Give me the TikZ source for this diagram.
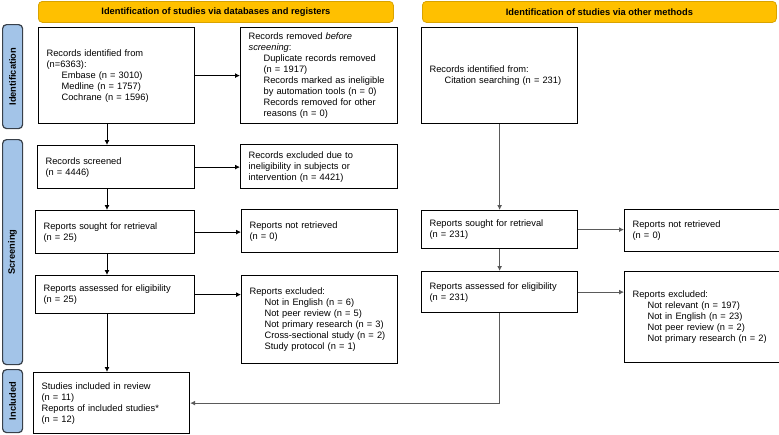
\documentclass[tikz,border=0pt]{standalone}
\usepackage{fontspec}
\setmainfont{Liberation Sans}
\usetikzlibrary{arrows.meta,calc}
\definecolor{gold}{HTML}{FFC000}
\definecolor{goldedge}{HTML}{D9A300}
\definecolor{sideblue}{HTML}{A3C4E8}
\definecolor{sideedge}{HTML}{38404A}
\definecolor{conngray}{HTML}{5A5A5A}
\newcommand{\ind}{\hspace*{15pt}}
\tikzset{
  box/.style={draw=black, line width=1.2pt, fill=white, align=left, inner xsep=8pt, inner ysep=2pt,
    font=\fontsize{9.3}{11}\selectfont, anchor=north west},
  header/.style={draw=goldedge, line width=0.8pt, fill=gold, rounded corners=4pt, anchor=north west,
    font=\fontsize{9.3}{11}\selectfont\bfseries, inner sep=0pt},
  side/.style={draw=sideedge, line width=1.2pt, fill=sideblue, rounded corners=4pt, anchor=north west,
    inner sep=0pt},
  sidetext/.style={rotate=90, font=\fontsize{9.3}{11}\selectfont\bfseries},
  arr/.style={draw=black, line width=0.9pt, -{Latex[length=5pt,width=5pt]}},
  arrg/.style={draw=conngray, line width=0.9pt, -{Latex[length=5pt,width=5pt]}},
}
\begin{document}
\begin{tikzpicture}[x=1pt, y=-1pt]
\useasboundingbox (0,0) rectangle (779,434);

% headers
\node[header, minimum width=355pt, minimum height=21pt] (h1) at (38,1) {};
\node at (h1.center) {\fontsize{9.3}{11}\selectfont\bfseries Identification of studies via databases and registers};
\node[header, minimum width=354pt, minimum height=21pt] (h2) at (422,1) {};
\node at (h2.center) {\fontsize{9.3}{11}\selectfont\bfseries Identification of studies via other methods};

% side bars
\node[side, minimum width=20pt, minimum height=104pt] (s1) at (2,24) {};
\node[sidetext] at (s1.center) {Identification};
\node[side, minimum width=20pt, minimum height=225pt] (s2) at (2,139) {};
\node[sidetext] at (s2.center) {Screening};
\node[side, minimum width=20pt, minimum height=63pt] (s3) at (2,369) {};
\node[sidetext] at (s3.center) {Included};

% left column
\node[box, minimum width=154pt, minimum height=96pt, text width=140pt] (recid) at (38,27)
 {Records identified from\\(n=6363):\\\ind Embase (n = 3010)\\\ind Medline (n = 1757)\\\ind Cochrane (n = 1596)};
\node[box, minimum width=155pt, minimum height=96pt, text width=141pt] (removed) at (240,27)
 {Records removed \textit{before}\\\textit{screening}:\\\ind Duplicate records removed\\\ind (n = 1917)\\\ind Records marked as ineligible\\\ind by automation tools (n = 0)\\\ind Records removed for other\\\ind reasons (n = 0)};
\node[box, minimum width=155pt, minimum height=43pt, text width=141pt] (screened) at (37,145)
 {Records screened\\(n = 4446)};
\node[box, minimum width=155pt, minimum height=44pt, text width=141pt] (excl1) at (240,144)
 {Records excluded due to\\ineligibility in subjects or\\intervention (n = 4421)};
\node[box, minimum width=157pt, minimum height=43pt, text width=143pt] (sought) at (35,210)
 {Reports sought for retrieval\\(n = 25)};
\node[box, minimum width=154pt, minimum height=43pt, text width=140pt] (notret) at (241,209)
 {Reports not retrieved\\(n = 0)};
\node[box, minimum width=157pt, minimum height=38pt, text width=143pt] (assessed) at (35,275)
 {Reports assessed for eligibility\\(n = 25)};
\node[box, minimum width=154pt, minimum height=88pt, text width=140pt] (excl2) at (241,275)
 {Reports excluded:\\\ind Not in English (n = 6)\\\ind Not peer review (n = 5)\\\ind Not primary research (n = 3)\\\ind Cross-sectional study (n = 2)\\\ind Study protocol (n = 1)};
\node[box, minimum width=154pt, minimum height=61pt, text width=140pt] (included) at (33,372)
 {Studies included in review\\(n = 11)\\Reports of included studies*\\(n = 12)};

% right column
\node[box, minimum width=154pt, minimum height=96pt, text width=140pt] (otherrec) at (421,27)
 {Records identified from:\\\ind Citation searching (n = 231)};
\node[box, minimum width=154pt, minimum height=38pt, text width=140pt] (soughtR) at (421,210)
 {Reports sought for retrieval\\(n = 231)};
\node[box, minimum width=154pt, minimum height=42pt, text width=140pt] (notretR) at (624,209)
 {Reports not retrieved\\(n = 0)};
\node[box, minimum width=154pt, minimum height=41pt, text width=140pt] (assessedR) at (421,271)
 {Reports assessed for eligibility\\(n = 231)};
\node[box, minimum width=154pt, minimum height=91pt, text width=140pt] (excl3) at (624,271)
 {Reports excluded:\\\ind Not relevant (n = 197)\\\ind Not in English (n = 23)\\\ind Not peer review (n = 2)\\\ind Not primary research (n = 2)};

% connectors left
\coordinate (xl) at (107,0);
\draw[arr] (recid.south -| xl) -- (screened.north -| xl);
\draw[arr] (screened.south -| xl) -- (sought.north -| xl);
\draw[arr] (sought.south -| xl) -- (assessed.north -| xl);
\draw[arr] (assessed.south -| xl) -- (included.north -| xl);
\draw[arr] (recid.east) -- (recid.east -| removed.west);
\draw[arr] (screened.east) -- (screened.east -| excl1.west);
\draw[arr] (sought.east) -- (sought.east -| notret.west);
\draw[arr] (assessed.east) -- (assessed.east -| excl2.west);

% connectors right
\draw[arrg] (otherrec.south) -- (soughtR.north);
\draw[arrg] (soughtR.south) -- (assessedR.north);
\draw[arrg] (soughtR.east) -- (soughtR.east -| notretR.west);
\draw[arrg] (assessedR.east) -- (assessedR.east -| excl3.west);
\draw[arrg] (assessedR.south) |- (included.east);
\end{tikzpicture}
\end{document}
